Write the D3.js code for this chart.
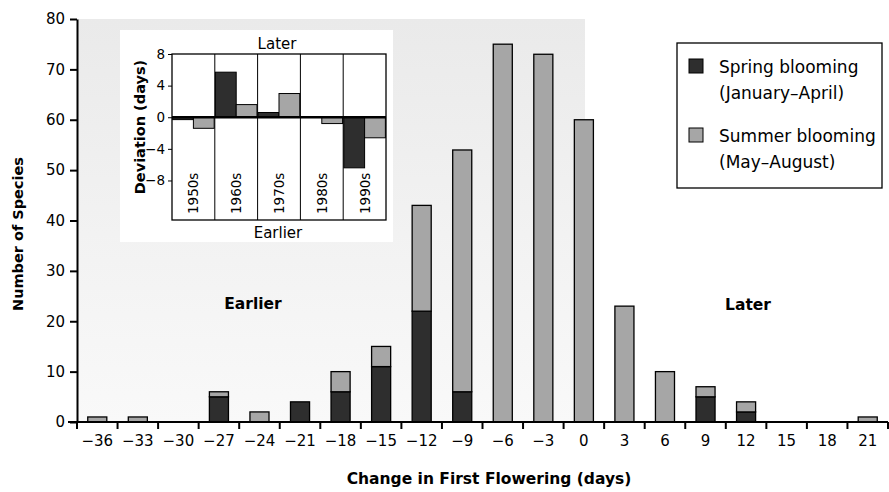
<html>
<script src="https://cdnjs.cloudflare.com/ajax/libs/d3/7.8.5/d3.min.js"></script>
<body style="margin:0; background:white;">
    <div id="graph"></div>
</body>
<script>
    // main histogram data
    var days = [-36, -33, -30, -27, -24, -21, -18, -15, -12, -9, -6, -3, 0, 3, 6, 9, 12, 15, 18, 21]
    var spring = [0, 0, 0, 5, 0, 4, 6, 11, 22, 6, 0, 0, 0, 0, 0, 5, 2, 0, 0, 0]
    var summer = [1, 1, 0, 1, 2, 0, 4, 4, 21, 48, 75, 73, 60, 23, 10, 2, 2, 0, 0, 1]
    var yTicks = [0, 10, 20, 30, 40, 50, 60, 70, 80]

    // inset data
    var decades = ['1950s', '1960s', '1970s', '1980s', '1990s']
    var springDev = [-0.3, 5.7, 0.6, 0, -6.4]
    var summerDev = [-1.4, 1.6, 3.0, -0.8, -2.6]
    var devTicks = [8, 4, 0, -4, -8]

    var legendItems = [
        ['Spring blooming', '(January\u2013April)'],
        ['Summer blooming', '(May\u2013August)']
    ]

    var WIDTH = 889, HEIGHT = 492
    var SPRING = '#2e2e2e', SUMMER = '#a6a6a6'
    var FONT = '"DejaVu Sans", sans-serif'
    var minus = (v) => v < 0 ? '\u2212' + Math.abs(v) : '' + v

    var svg = d3.select('#graph').append('svg')
        .attr('width', WIDTH)
        .attr('height', HEIGHT)
        .style('font-family', FONT)

    var defs = svg.append('defs')
    var grad = defs.append('linearGradient').attr('id', 'bg').attr('x1', 0).attr('y1', 0).attr('x2', 0).attr('y2', 1)
    grad.append('stop').attr('offset', '0%').attr('stop-color', '#eaeaea')
    grad.append('stop').attr('offset', '100%').attr('stop-color', '#f9f9f9')

    var X = d3.scaleBand().domain(days).range([77, 888]).paddingInner(0.53).paddingOuter(0.265)
    var Y = d3.scaleLinear().domain([0, 80]).range([422, 19])

    // stippled background
    svg.append('rect').attr('x', X.range()[0]).attr('y', Y(80))
        .attr('width', 585 - 77).attr('height', Y(0) - Y(80))
        .style('fill', 'url(#bg)')

    // bars: spring at the bottom, summer on top
    var rows = days.map((d, i) => ({ day: d, spring: spring[i], summer: summer[i] }))
    var bars = svg.append('g')
    rows.forEach((r) => {
        if (r.spring > 0) {
            bars.append('rect').attr('x', X(r.day)).attr('width', X.bandwidth())
                .attr('y', Y(r.spring)).attr('height', Y(0) - Y(r.spring))
                .style('fill', SPRING).style('stroke', '#000').style('stroke-width', 1.3)
        }
        if (r.summer > 0) {
            bars.append('rect').attr('x', X(r.day)).attr('width', X.bandwidth())
                .attr('y', Y(r.spring + r.summer)).attr('height', Y(r.spring) - Y(r.spring + r.summer))
                .style('fill', SUMMER).style('stroke', '#000').style('stroke-width', 1.3)
        }
    })

    // y axis
    var yAxis = svg.append('g').attr('transform', 'translate(' + X.range()[0] + ',0)')
        .call(d3.axisLeft(Y).tickValues(yTicks).tickSize(7).tickSizeOuter(0))
    yAxis.select('.domain').style('stroke-width', 2)
    yAxis.selectAll('line').style('stroke-width', 2)
    yAxis.selectAll('text').style('font-size', '15px').style('font-family', FONT).attr('x', -12)

    // x axis: ticks on the bin boundaries, labels in the middle
    var xg = svg.append('g')
    xg.append('line').attr('x1', 68).attr('x2', 888).attr('y1', Y(0)).attr('y2', Y(0))
        .style('stroke', '#000').style('stroke-width', 2)
    var edges = days.map((d) => X(d) + X.bandwidth() / 2 - X.step() / 2).concat([X.range()[1]])
    xg.selectAll('.xt').data(edges).enter().append('line')
        .attr('x1', (d) => d).attr('x2', (d) => d)
        .attr('y1', Y(0)).attr('y2', Y(0) + 7)
        .style('stroke', '#000').style('stroke-width', 2)
    xg.selectAll('.xl').data(days).enter().append('text')
        .attr('x', (d) => X(d) + X.bandwidth() / 2)
        .attr('y', 446)
        .attr('text-anchor', 'middle')
        .style('font-size', '15px')
        .text((d) => minus(d))

    // axis titles
    svg.append('text').attr('x', 489).attr('y', 484).attr('text-anchor', 'middle')
        .style('font-size', '15.5px').style('font-weight', 'bold')
        .text('Change in First Flowering (days)')
    svg.append('text').attr('transform', 'translate(23,234) rotate(-90)').attr('text-anchor', 'middle')
        .style('font-size', '14.5px').style('font-weight', 'bold')
        .text('Number of Species')

    svg.append('text').attr('x', 253).attr('y', 309).attr('text-anchor', 'middle')
        .style('font-size', '15.5px').style('font-weight', 'bold').text('Earlier')
    svg.append('text').attr('x', 748).attr('y', 310).attr('text-anchor', 'middle')
        .style('font-size', '15.5px').style('font-weight', 'bold').text('Later')

    // legend
    var lg = svg.append('g')
    lg.append('rect').attr('x', 677).attr('y', 43).attr('width', 205).attr('height', 145)
        .style('fill', 'white').style('stroke', '#000').style('stroke-width', 1.3)
    legendItems.forEach((item, i) => {
        var y0 = 59 + i * 69
        lg.append('rect').attr('x', 689).attr('y', y0).attr('width', 14).attr('height', 14)
            .style('fill', i == 0 ? SPRING : SUMMER).style('stroke', '#000')
        lg.append('text').attr('x', 719).attr('y', y0 + 14).style('font-size', '17px').text(item[0])
        lg.append('text').attr('x', 719).attr('y', y0 + 40).style('font-size', '17px').text(item[1])
    })

    // inset: decade deviations
    var inset = svg.append('g')
    inset.append('rect').attr('x', 120).attr('y', 30).attr('width', 273).attr('height', 212).style('fill', 'white')

    var IX = d3.scaleBand().domain(decades).range([172, 386])
    var IS = d3.scaleBand().domain(['spring', 'summer']).range([0, IX.bandwidth()]).paddingInner(0).paddingOuter(0.03)
    var IY = d3.scaleLinear().domain([-13, 8]).range([220, 54])

    decades.forEach((dec, i) => {
        [['spring', springDev[i], SPRING], ['summer', summerDev[i], SUMMER]].forEach((s) => {
            if (s[1] == 0) return
            inset.append('rect')
                .attr('x', IX(dec) + IS(s[0])).attr('width', IS.bandwidth())
                .attr('y', IY(Math.max(0, s[1]))).attr('height', Math.abs(IY(s[1]) - IY(0)))
                .style('fill', s[2]).style('stroke', '#000').style('stroke-width', 1)
        })
        inset.append('text')
            .attr('transform', 'translate(' + (IX(dec) + IX.bandwidth() / 2 + 5) + ',214) rotate(-90)')
            .style('font-size', '13.5px').text(dec)
    })

    // dividers and frame
    inset.selectAll('.div').data(decades.slice(1)).enter().append('line')
        .attr('x1', (d) => IX(d)).attr('x2', (d) => IX(d))
        .attr('y1', IY(8)).attr('y2', IY(-13))
        .style('stroke', '#000').style('stroke-width', 1)
    inset.append('rect').attr('x', IX.range()[0]).attr('y', IY(8))
        .attr('width', IX.range()[1] - IX.range()[0]).attr('height', IY(-13) - IY(8))
        .style('fill', 'none').style('stroke', '#000').style('stroke-width', 1.3)
    inset.append('line').attr('x1', IX.range()[0]).attr('x2', IX.range()[1])
        .attr('y1', IY(0)).attr('y2', IY(0)).style('stroke', '#000').style('stroke-width', 2.5)

    var iy = inset.append('g').attr('transform', 'translate(172,0)')
        .call(d3.axisLeft(IY).tickValues(devTicks).tickSize(4).tickFormat(minus))
    iy.select('.domain').remove()
    iy.selectAll('text').style('font-size', '13.5px').style('font-family', FONT)

    inset.append('text').attr('transform', 'translate(145,127) rotate(-90)').attr('text-anchor', 'middle')
        .style('font-size', '14.5px').style('font-weight', 'bold').text('Deviation (days)')
    inset.append('text').attr('x', 277).attr('y', 49).attr('text-anchor', 'middle')
        .style('font-size', '15px').text('Later')
    inset.append('text').attr('x', 278).attr('y', 238).attr('text-anchor', 'middle')
        .style('font-size', '15px').text('Earlier')
</script>
</html>
